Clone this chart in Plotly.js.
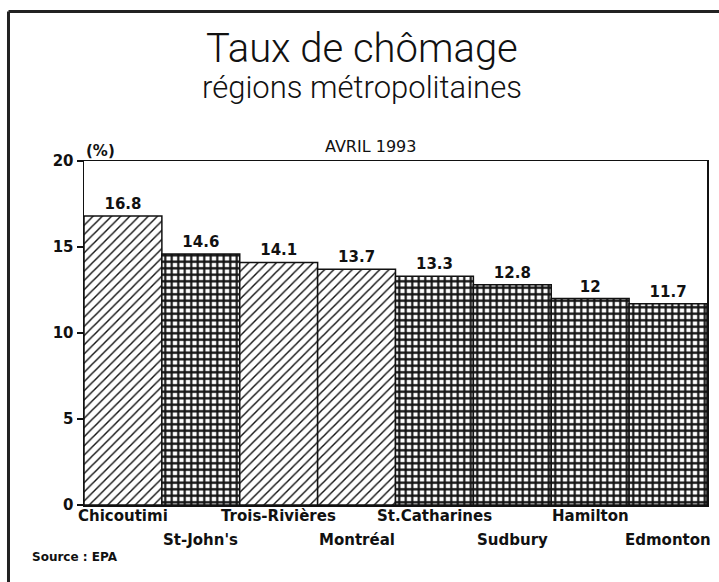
<!DOCTYPE html>
<html>
<head>
<meta charset="utf-8">
<script src="https://cdn.plot.ly/plotly-3.0.1.min.js"></script>
<style>
html,body{margin:0;padding:0;background:#fff;}
#chart{width:719px;height:582px;}
</style>
</head>
<body>
<div id="chart"></div>
<script>
const cities = ["Chicoutimi","St-John's","Trois-Rivières","Montréal","St.Catharines","Sudbury","Hamilton","Edmonton"];
const rates = [16.8, 14.6, 14.1, 13.7, 13.3, 12.8, 12, 11.7];
const quebec = [true, false, true, true, false, false, false, false];
const yTicks = [0, 5, 10, 15, 20];
const titleText = "Taux de chômage";
const subtitleText = "régions métropolitaines";
const periodText = "AVRIL 1993";
const unitText = "(%)";
const sourceText = "Source : EPA";

const lblFont = {family: "DejaVu Sans", size: 15, color: "#111", weight: "bold"};

const trace = {
  type: "bar",
  x: cities,
  y: rates,
  text: rates.map(String),
  textposition: "outside",
  cliponaxis: false,
  textfont: {family: "DejaVu Sans", size: 15, color: "#111", weight: "bold"},
  marker: {
    color: "#ffffff",
    line: {color: "#111", width: 1.5},
    pattern: {
      shape: quebec.map(q => q ? "/" : "+"),
      size: 6.5,
      solidity: quebec.map(q => q ? 0.22 : 0.55),
      fgcolor: "#111",
      bgcolor: "#ffffff",
      fillmode: "replace"
    }
  },
  hoverinfo: "skip"
};

const annotations = [
  {text: titleText, xref: "paper", yref: "paper", x: 0.447, y: 1.326, xanchor: "center", yanchor: "middle", showarrow: false,
   font: {family: "Roboto", size: 40, color: "#111", weight: 300}},
  {text: subtitleText, xref: "paper", yref: "paper", x: 0.447, y: 1.214, xanchor: "center", yanchor: "middle", showarrow: false,
   font: {family: "Roboto", size: 31, color: "#111", weight: 300}},
  {text: periodText, xref: "paper", yref: "paper", x: 0.46, y: 1.0436, xanchor: "center", yanchor: "middle", showarrow: false,
   font: {family: "DejaVu Sans", size: 16, color: "#111"}},
  {text: unitText, xref: "paper", yref: "paper", x: 0.0, y: 1.029, xanchor: "left", yanchor: "middle", showarrow: false,
   font: lblFont},
  {text: sourceText, xref: "paper", yref: "paper", x: -0.0867, y: 0, yshift: -52, xanchor: "left", yanchor: "middle", showarrow: false,
   font: {family: "DejaVu Sans", size: 12, color: "#111", weight: "bold"}}
];
cities.forEach((c, i) => {
  annotations.push({text: c, xref: "x", yref: "paper", x: c, y: 0, yshift: i % 2 === 0 ? -11 : -35,
    xanchor: "center", yanchor: "middle", showarrow: false, font: lblFont});
});

const layout = {
  width: 719, height: 582,
  margin: {l: 84, r: 12, t: 161, b: 77},
  paper_bgcolor: "#ffffff",
  plot_bgcolor: "#ffffff",
  showlegend: false,
  bargap: 0,
  xaxis: {
    type: "category",
    range: [-0.5, cities.length - 0.5],
    showticklabels: false,
    ticks: "",
    showline: true, linecolor: "#111", linewidth: 1.5, mirror: true,
    showgrid: false, zeroline: false
  },
  yaxis: {
    range: [0, 20],
    tickvals: yTicks,
    ticktext: yTicks.map(String),
    ticks: "outside", ticklen: 6, tickwidth: 1.5, tickcolor: "#111",
    tickfont: lblFont,
    showline: true, linecolor: "#111", linewidth: 1.5, mirror: true,
    showgrid: false, zeroline: false
  },
  annotations: annotations,
  shapes: [
    {type: "line", xref: "paper", yref: "paper", x0: -0.1212, x1: 1.05, y0: 1.4346, y1: 1.4346, line: {color: "#222", width: 3}},
    {type: "line", xref: "paper", yref: "paper", x0: -0.1212, x1: -0.1212, y0: -0.3, y1: 1.4346, line: {color: "#222", width: 3}}
  ]
};

Plotly.newPlot("chart", [trace], layout, {displayModeBar: false, staticPlot: true});
</script>
</body>
</html>
